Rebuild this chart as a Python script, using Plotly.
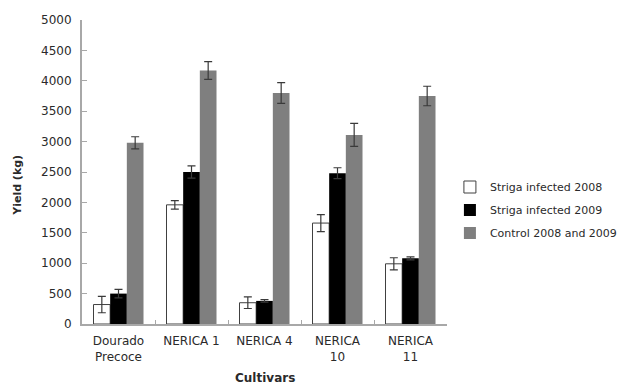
import plotly.graph_objects as go

# Rice cultivars and grain yield (kg) with standard errors
cultivars = ["Dourado<br>Precoce", "NERICA 1", "NERICA 4", "NERICA<br>10", "NERICA<br>11"]

infected_2008 = [320, 1960, 350, 1660, 990]
infected_2008_err = [135, 70, 95, 140, 100]

infected_2009 = [500, 2500, 380, 2480, 1080]
infected_2009_err = [70, 100, 20, 90, 25]

control = [2980, 4170, 3800, 3110, 3750]
control_err = [100, 145, 170, 190, 160]

series_names = ["Striga infected 2008", "Striga infected 2009", "Control 2008 and 2009"]

FONT = "DejaVu Sans"
TEXT = "#2a2a2a"
AXIS = "#a8a8a8"
ERR = "#3a3a3a"


def err(vals):
    return dict(type="data", array=vals, visible=True, color=ERR, thickness=1.2, width=4)


fig = go.Figure()
fig.add_trace(go.Bar(
    x=cultivars, y=infected_2008, name=series_names[0], legendgroup="a",
    marker=dict(color="#ffffff", line=dict(color="#404040", width=1)),
    error_y=err(infected_2008_err),
))
fig.add_trace(go.Bar(
    x=cultivars, y=infected_2009, name=series_names[1], legendgroup="b",
    marker=dict(color="#000000", line=dict(color="#000000", width=0)),
    error_y=err(infected_2009_err),
))
fig.add_trace(go.Bar(
    x=cultivars, y=control, name=series_names[2], legendgroup="c",
    marker=dict(color="#7f7f7f", line=dict(color="#7f7f7f", width=0)),
    error_y=err(control_err),
))

fig.update_layout(
    width=631, height=387,
    margin=dict(l=82, r=184, t=20, b=63, autoexpand=False),
    paper_bgcolor="white", plot_bgcolor="white",
    font=dict(family=FONT, size=12, color=TEXT),
    barmode="group", bargap=0.315, bargroupgap=0,
    showlegend=True,
    legend=dict(
        x=1.008, y=0.375, xanchor="left", yanchor="middle",
        font=dict(family=FONT, size=11, color=TEXT),
        bgcolor="rgba(0,0,0,0)", borderwidth=0,
        tracegroupgap=4, itemwidth=30,
    ),
    xaxis=dict(
        type="category", showline=True, linecolor=AXIS, linewidth=2,
        ticks="inside", ticklen=4, tickcolor=AXIS, tickson="boundaries",
        showgrid=False, zeroline=False,
        tickfont=dict(family=FONT, size=12, color=TEXT),
        ticklabelstandoff=5,
    ),
    yaxis=dict(
        range=[0, 5000], dtick=500, showline=True, linecolor=AXIS, linewidth=2,
        ticks="inside", ticklen=5, tickcolor=AXIS,
        showgrid=False, zeroline=False,
        tickfont=dict(family=FONT, size=12, color=TEXT),
        ticklabelstandoff=6,
    ),
    annotations=[
        dict(text="<b>Yield (kg)</b>", xref="paper", yref="paper",
             x=-0.175, y=0.455, xanchor="center", yanchor="middle",
             textangle=-90, showarrow=False,
             font=dict(family=FONT, size=11, color=TEXT)),
        dict(text="<b>Cultivars</b>", xref="paper", yref="paper",
             x=0.5, y=-0.178, xanchor="center", yanchor="middle",
             showarrow=False, font=dict(family=FONT, size=12, color=TEXT)),
    ],
)

fig.write_html("out.html")
